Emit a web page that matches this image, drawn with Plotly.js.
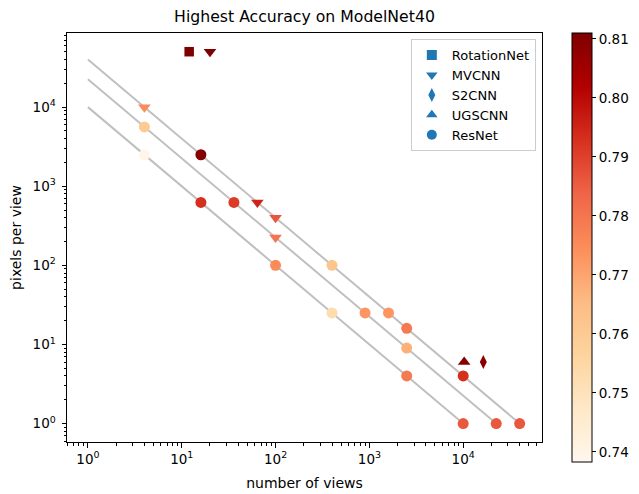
<!DOCTYPE html>
<html><head><meta charset="utf-8">
<script src="https://cdn.plot.ly/plotly-3.0.1.min.js"></script>
<style>html,body{margin:0;padding:0;background:#fff}</style>
</head><body><div id="chart" style="width:639px;height:494px"></div>
<script>
// image resolutions (side length); each grey line is views * pixelsPerView = side^2
const resolutions = [100, 150, 200];

// RotationNet
const rotViews = [12];
const rotPixels = [50176];
const rotAcc = [0.811];
// MVCNN
const mvViews = [20, 4, 64, 100, 100];
const mvPixels = [50176, 10000, 625, 400, 225];
const mvAcc = [0.811, 0.775, 0.795, 0.786, 0.780];
// S2CNN
const s2Views = [16384];
const s2Pixels = [6];
const s2Acc = [0.809];
// UGSCNN
const ugViews = [10242];
const ugPixels = [6];
const ugAcc = [0.810];
// ResNet
const resViews = [4, 4, 16, 16, 36, 100, 400, 400, 900, 1600, 2500, 2500, 2500, 10000, 10000, 22500, 40000];
const resPixels = [5625, 2500, 2500, 625, 625, 100, 100, 25, 25, 25, 16, 9, 4, 4, 1, 1, 1];
const resAcc = [0.760, 0.739, 0.810, 0.793, 0.791, 0.775, 0.762, 0.753, 0.773, 0.773, 0.779, 0.768, 0.779, 0.793, 0.786, 0.786, 0.786];

const decadeVals = [1, 10, 100, 1000, 10000];
const xTickText = ['10<sup>0</sup>', '10<sup>1</sup>', '10<sup>2</sup>', '10<sup>3</sup>', '10<sup>4</sup>'];
const cbarTicks = [0.74, 0.75, 0.76, 0.77, 0.78, 0.79, 0.80, 0.81];
const cbarText = ['0.74', '0.75', '0.76', '0.77', '0.78', '0.79', '0.80', '0.81'];

const CMIN = 0.7383, CMAX = 0.811;
const OrRd = [
  [0.0, '#fff7ec'], [0.125, '#fee8c8'], [0.25, '#fdd49e'], [0.375, '#fdbb84'],
  [0.5, '#fc8d59'], [0.625, '#ef6548'], [0.75, '#d7301f'], [0.875, '#b30000'], [1.0, '#7f0000']
];

const minorVals = [];
for (let e = -1; e <= 4; e++) {
  for (let d = 2; d <= 9; d++) minorVals.push(d * Math.pow(10, e));
}

const traces = [];
// grey lines
resolutions.forEach(r => {
  const n = r * r;
  traces.push({
    x: [1, n], y: [n, 1], mode: 'lines', type: 'scatter',
    line: { color: '#c0c0c0', width: 2 }, showlegend: false, hoverinfo: 'skip'
  });
});

function dataTrace(xs, ys, acc, symbol, size, showbar) {
  const t = {
    x: xs, y: ys, mode: 'markers', type: 'scatter', showlegend: false,
    marker: {
      symbol: symbol, size: size, color: acc, colorscale: OrRd, cmin: CMIN, cmax: CMAX,
      showscale: !!showbar, line: { width: 0 }
    }
  };
  if (showbar) {
    t.marker.colorbar = {
      x: 1.063, xanchor: 'left', xref: 'paper', xpad: 0,
      y: 1.0, yanchor: 'top', yref: 'paper', ypad: 0,
      len: 429, lenmode: 'pixels', thickness: 20, thicknessmode: 'pixels',
      outlinecolor: '#000', outlinewidth: 1,
      tickmode: 'array', tickvals: cbarTicks, ticktext: cbarText,
      ticks: 'outside', ticklen: 4, tickwidth: 1, tickcolor: '#000',
      tickfont: { family: 'DejaVu Sans', size: 13.5, color: '#000' }
    };
  }
  return t;
}

traces.push(dataTrace(resViews, resPixels, resAcc, 'circle', 11, true));
traces.push(dataTrace(rotViews, rotPixels, rotAcc, 'square', 9.5, false));
traces.push(dataTrace(mvViews, mvPixels, mvAcc, 'triangle-down', 11, false));
traces.push(dataTrace(s2Views, s2Pixels, s2Acc, 'diamond-tall', 10, false));
traces.push(dataTrace(ugViews, ugPixels, ugAcc, 'triangle-up', 11, false));

// legend entries
const legendNames = ['RotationNet', 'MVCNN', 'S2CNN', 'UGSCNN', 'ResNet'];
const legendSymbols = ['square', 'triangle-down', 'diamond-tall', 'triangle-up', 'circle'];
legendNames.forEach((nm, i) => {
  traces.push({
    x: [null], y: [null], mode: 'markers', type: 'scatter', name: nm,
    marker: { symbol: legendSymbols[i], size: 10, color: '#1f77b4' }
  });
});

const axisFont = { family: 'DejaVu Sans', size: 13.5, color: '#000' };
const layout = {
  width: 639, height: 494,
  margin: { l: 67, r: 97, t: 33, b: 52, pad: 0, autoexpand: false },
  paper_bgcolor: '#fff', plot_bgcolor: '#fff',
  font: { family: 'DejaVu Sans', color: '#000' },
  title: {
    text: 'Highest Accuracy on ModelNet40', font: { family: 'DejaVu Sans', size: 15.7, color: '#000' },
    x: 0.5, xref: 'paper', xanchor: 'center', y: 1 - 16.5 / 494, yref: 'container', yanchor: 'middle'
  },
  xaxis: {
    type: 'log', range: [-0.223, 4.84], showgrid: false, zeroline: false,
    showline: true, linecolor: '#000', linewidth: 1, mirror: true,
    tickmode: 'array', tickvals: decadeVals, ticktext: xTickText,
    ticks: 'outside', ticklen: 4.5, tickwidth: 1, tickcolor: '#000',
    tickfont: axisFont,
    minor: { tickmode: 'array', tickvals: minorVals, ticks: 'outside', ticklen: 2.5, tickwidth: 1, tickcolor: '#000', showgrid: false },
    title: { text: 'number of views', font: { family: 'DejaVu Sans', size: 14, color: '#000' }, standoff: 12 },
    automargin: false
  },
  yaxis: {
    type: 'log', range: [-0.233, 4.937], showgrid: false, zeroline: false,
    showline: true, linecolor: '#000', linewidth: 1, mirror: true,
    tickmode: 'array', tickvals: decadeVals, ticktext: xTickText,
    ticks: 'outside', ticklen: 4.5, tickwidth: 1, tickcolor: '#000',
    ticklabelstandoff: 3,
    tickfont: axisFont,
    minor: { tickmode: 'array', tickvals: minorVals, ticks: 'outside', ticklen: 2.5, tickwidth: 1, tickcolor: '#000', showgrid: false },
    title: { text: 'pixels per view', font: { family: 'DejaVu Sans', size: 14, color: '#000' }, standoff: 7 },
    automargin: false
  },
  legend: {
    x: 0.987, xanchor: 'right', y: 0.985, yanchor: 'top',
    bordercolor: '#cccccc', borderwidth: 1, bgcolor: 'rgba(255,255,255,0.8)',
    font: { family: 'DejaVu Sans', size: 13, color: '#000' },
    tracegroupgap: 0
  },
  showlegend: true
};

Plotly.newPlot('chart', traces, layout, { displayModeBar: false, staticPlot: true });
</script>
</body></html>
